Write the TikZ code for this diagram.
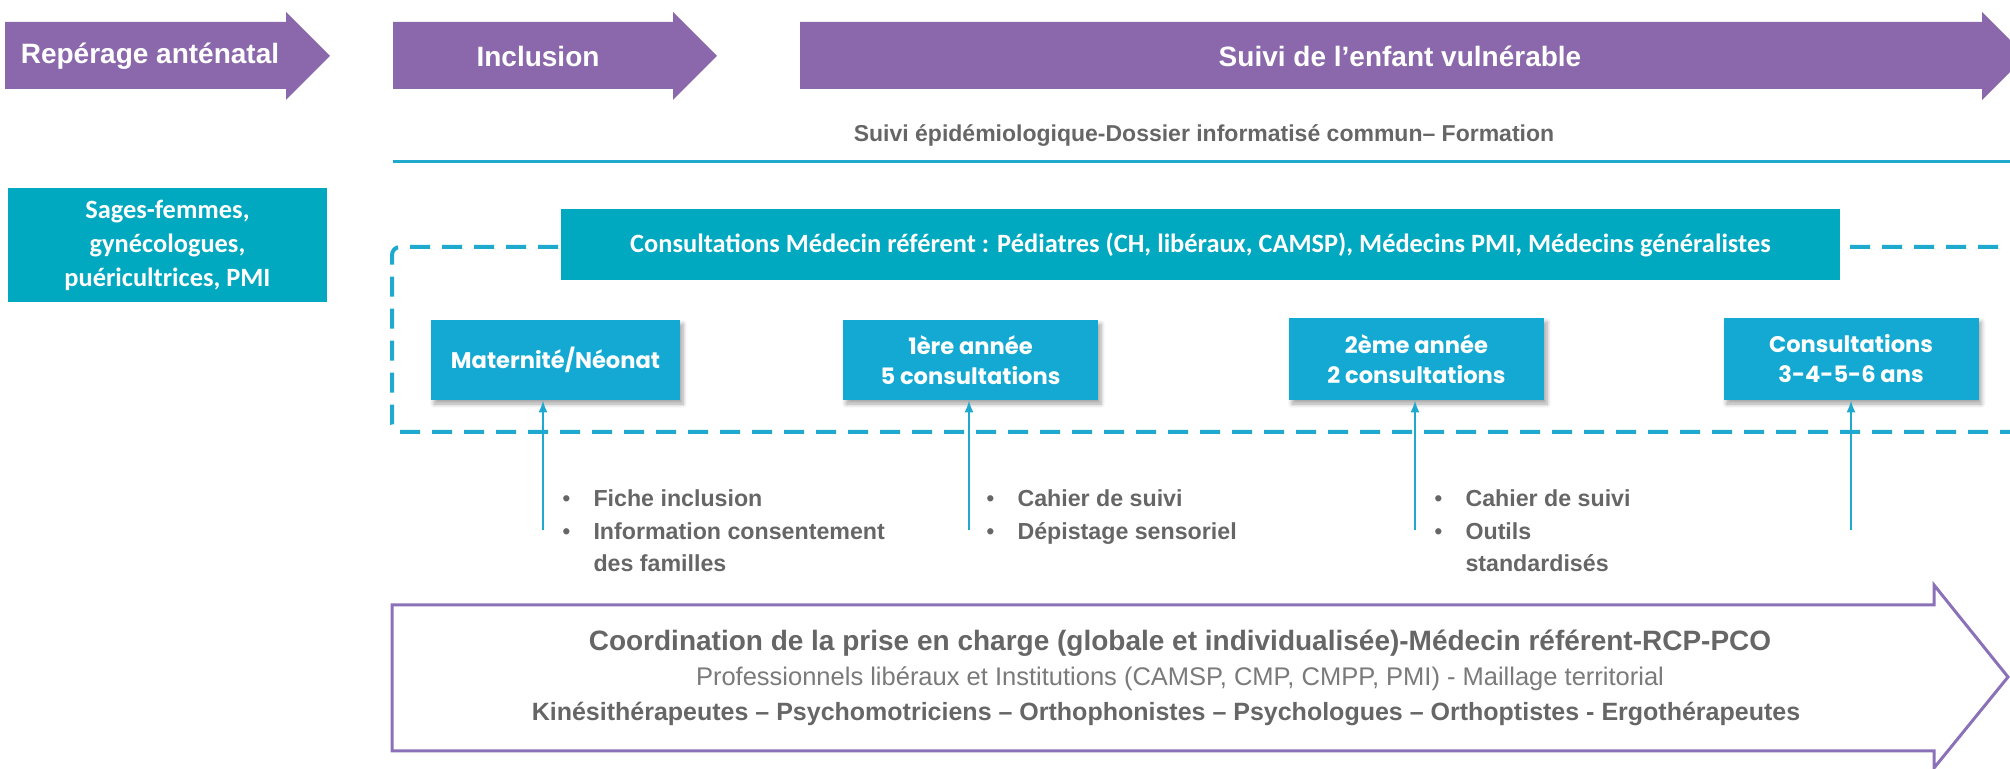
\documentclass[tikz,border=0pt]{standalone}
\usepackage{fontspec}
\setmainfont{Liberation Sans}
\newfontfamily\calibrifont{Carlito}
\newfontfamily\gothicfont{Poppins}
\usetikzlibrary{arrows.meta,shadows.blur}
\definecolor{phasepurple}{HTML}{8A68AB}
\definecolor{framepurple}{HTML}{8B72B8}
\definecolor{tealdark}{HTML}{00A8C0}
\definecolor{stepblue}{HTML}{14A9D3}
\definecolor{linecyan}{HTML}{1FA9CF}
\definecolor{textgrey}{HTML}{666666}
\definecolor{lightgrey}{HTML}{7A7A7A}
\tikzset{
  phase/.style={fill=phasepurple},
  phasetext/.style={text=white, font={\fontsize{14}{16}\selectfont\bfseries}},
  tealbox/.style={fill=tealdark, text=white, align=center, inner sep=0pt,
    font={\calibrifont\fontsize{13.2}{17}\selectfont\bfseries}},
  stepbox/.style={fill=stepblue, text=white, align=center, inner sep=0pt,
    minimum width=127.5pt, minimum height=40pt,
    blur shadow={shadow xshift=1.5pt, shadow yshift=-2pt, shadow opacity=35, shadow blur steps=6},
    font={\gothicfont\fontsize{11.3}{15}\selectfont\bfseries}},
  dashframe/.style={draw=linecyan, line width=2pt, dash pattern=on 10pt off 6pt, rounded corners=4pt},
  uparrow/.style={draw=linecyan, line width=1pt, -{Latex[length=6pt,width=4.5pt]}},
  bullets/.style={text=textgrey, inner sep=0pt, anchor=north west,
    font={\fontsize{11.6}{16.4}\selectfont\bfseries}},
  bigarrow/.style={draw=framepurple, fill=white, line width=1.5pt, line join=miter},
  greytext/.style={text=textgrey, inner sep=0pt}
}
\newcommand{\bul}{{\mdseries\textbullet}}
\begin{document}
\begin{tikzpicture}[x=0.5pt, y=-0.5pt]
\useasboundingbox (0,0) rectangle (2010,769);
\clip (0,0) rectangle (2010,769);
% phases
\foreach \xa/\xb/\xc in {5/286/330, 393/673/717, 800/1982/2026}
  \fill[phase] (\xa,22) -- (\xb,22) -- (\xb,12) -- (\xc,56) -- (\xb,100)
    -- (\xb,89) -- (\xa,89) -- cycle;
\node[phasetext] (rep) at (150,56) {Repérage anténatal};
\node[phasetext] (incl) at (538,56) {Inclusion};
\node[phasetext] (suivi) at (1400,56) {Suivi de l’enfant vulnérable};
% suivi epidemiologique
\node[greytext, font={\fontsize{11.5}{13}\selectfont\bfseries}] (epi) at (1204,136)
  {Suivi épidémiologique-Dossier informatisé commun– Formation};
\draw[linecyan, line width=1.5pt] (393,162) -- (2010,162);
% acteurs
\node[tealbox, minimum width=159.5pt, minimum height=57pt] (sages) at (167.5,245)
  {Sages-femmes,\\ gynécologues,\\ puéricultrices, PMI};
\draw[dashframe] (2030,247) -- (392,247) -- (392,432) -- (2030,432);
\node[tealbox, minimum width=639.5pt, minimum height=35.5pt] (medref) at (1200.5,244.5)
  {Consultations Médecin référent : Pédiatres (CH, libéraux, CAMSP), Médecins PMI, Médecins généralistes};
% consultations
\node[stepbox, minimum width=124.5pt] (mat) at (555.5,360) {Maternité/Néonat};
\node[stepbox] (an1) at (970.5,360) {1ère année\\ 5 consultations};
\node[stepbox, minimum height=41pt] (an2) at (1416.5,359) {2ème année\\ 2 consultations};
\node[stepbox, minimum height=41pt] (ans) at (1851,359) {Consultations\\ 3-4-5-6 ans};
% outils
\coordinate (a1) at (543,530);
\coordinate (a2) at (969,530);
\coordinate (a3) at (1415,530);
\coordinate (a4) at (1851,530);
\draw[uparrow] (a1) -- (a1 |- mat.south);
\draw[uparrow] (a2) -- (a2 |- an1.south);
\draw[uparrow] (a3) -- (a3 |- an2.south);
\draw[uparrow] (a4) -- (a4 |- ans.south);
\node[bullets] (l1) at (562,483) {\begin{tabular}{@{}l@{\hspace{11.5pt}}l@{}}
  \bul & Fiche inclusion\\ \bul & Information consentement\\ & des familles\end{tabular}};
\node[bullets] (l2) at (986,483) {\begin{tabular}{@{}l@{\hspace{11.5pt}}l@{}}
  \bul & Cahier de suivi\\ \bul & Dépistage sensoriel\end{tabular}};
\node[bullets] (l3) at (1434,483) {\begin{tabular}{@{}l@{\hspace{11.5pt}}l@{}}
  \bul & Cahier de suivi\\ \bul & Outils\\ & standardisés\end{tabular}};
% coordination
\draw[bigarrow] (392,605) -- (1934,605) -- (1934,585) -- (2008,677) -- (1934,768)
  -- (1934,751) -- (392,751) -- cycle;
\node[greytext, font={\fontsize{14}{16}\selectfont\bfseries}] (coord) at (1180,643)
  {Coordination de la prise en charge (globale et individualisée)-Médecin référent-RCP-PCO};
\node[greytext, text=lightgrey, font={\fontsize{12.75}{15}\selectfont}] (prof) at (1180,679)
  {Professionnels libéraux et Institutions (CAMSP, CMP, CMPP, PMI) - Maillage territorial};
\node[greytext, font={\fontsize{12.5}{15}\selectfont\bfseries}] (kine) at (1166,714)
  {Kinésithérapeutes – Psychomotriciens – Orthophonistes – Psychologues – Orthoptistes - Ergothérapeutes};
\end{tikzpicture}
\end{document}
